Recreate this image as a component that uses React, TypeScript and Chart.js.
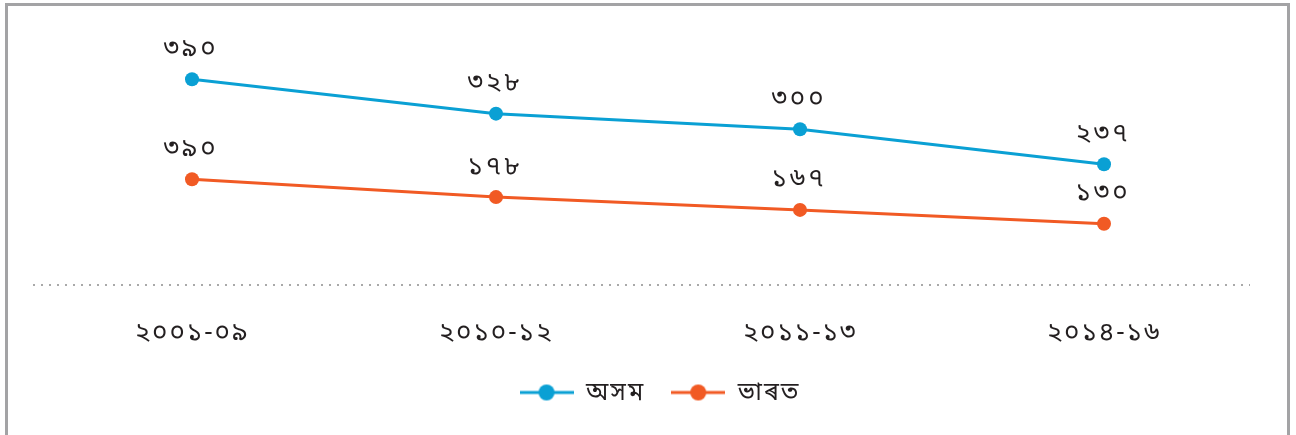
import React, { useEffect, useRef } from "react";
import { Chart, registerables } from "chart.js";

Chart.register(...registerables);

const categories = ["২০০১-০৯", "২০১০-১২", "২০১১-১৩", "২০১৪-১৬"];
const assamValues = [390, 328, 300, 237];
const indiaValues = [210, 178, 155, 130];
const assamLabels = ["৩৯০", "৩২৮", "৩০০", "২৩৭"];
const indiaLabels = ["৩৯০", "১৭৮", "১৬৭", "১৩০"];
const seriesNames = ["অসম", "ভাৰত"];

const BLUE = "#0aa0d4";
const ORANGE = "#f15a24";
const TEXT = "#231f20";
const FONT = "'Noto Sans', 'Noto Sans Bengali', sans-serif";

function makeMarker(color: string) {
  const c = document.createElement("canvas");
  c.width = 54;
  c.height = 18;
  const ctx = c.getContext("2d")!;
  ctx.strokeStyle = color;
  ctx.lineWidth = 3;
  ctx.beginPath();
  ctx.moveTo(0, 9);
  ctx.lineTo(54, 9);
  ctx.stroke();
  ctx.fillStyle = color;
  ctx.beginPath();
  ctx.arc(27, 9, 8, 0, Math.PI * 2);
  ctx.fill();
  return c;
}

const spacingPlugin = {
  id: "spacing",
  beforeUpdate(chart: any) {
    chart.ctx.letterSpacing = "2px";
  },
  afterLayout(chart: any) {
    if (chart.legend) {
      chart.legend.left += 12;
      chart.legend.right += 12;
    }
  },
  beforeDraw(chart: any) {
    chart.ctx.letterSpacing = "2px";
  },
};

const dottedLinePlugin = {
  id: "dottedLine",
  beforeDatasetsDraw(chart: any) {
    const { ctx, chartArea } = chart;
    ctx.save();
    ctx.strokeStyle = "#a9a9a9";
    ctx.lineWidth = 2;
    ctx.setLineDash([2, 6]);
    ctx.beginPath();
    ctx.moveTo(chartArea.left - 7, chartArea.bottom);
    ctx.lineTo(chartArea.right - 6, chartArea.bottom);
    ctx.stroke();
    ctx.restore();
  },
};

const valueLabelPlugin = {
  id: "valueLabels",
  afterDatasetsDraw(chart: any) {
    const ctx = chart.ctx;
    const sets = [assamLabels, indiaLabels];
    ctx.save();
    ctx.letterSpacing = "3px";
    ctx.font = `26px ${FONT}`;
    ctx.fillStyle = TEXT;
    ctx.textAlign = "center";
    ctx.textBaseline = "middle";
    chart.data.datasets.forEach((_: any, i: number) => {
      const meta = chart.getDatasetMeta(i);
      meta.data.forEach((pt: any, j: number) => {
        ctx.fillText(sets[i][j], pt.x - 1, pt.y - 31);
      });
    });
    ctx.restore();
  },
};

export default function App() {
  const ref = useRef<HTMLCanvasElement>(null);
  useEffect(() => {
    document.body.style.margin = "0";
    const chart = new Chart(ref.current!, {
      type: "line",
      data: {
        labels: categories,
        datasets: [
          {
            label: seriesNames[0],
            data: assamValues,
            borderColor: BLUE,
            backgroundColor: BLUE,
            borderWidth: 3,
            pointRadius: 7,
            pointHoverRadius: 7,
            pointBorderWidth: 0,
            pointStyle: "circle",
          },
          {
            label: seriesNames[1],
            data: indiaValues,
            borderColor: ORANGE,
            backgroundColor: ORANGE,
            borderWidth: 3,
            pointRadius: 7,
            pointHoverRadius: 7,
            pointBorderWidth: 0,
            pointStyle: "circle",
          },
        ],
      },
      options: {
        animation: false,
        responsive: false,
        layout: { padding: { left: 40, right: 40, top: 18, bottom: 20 } },
        plugins: {
          tooltip: { enabled: false },
          legend: {
            position: "bottom",
            labels: {
              usePointStyle: true,
              pointStyleWidth: 54,
              boxHeight: 18,
              padding: 26,
              color: TEXT,
              font: { family: FONT, size: 25 },
              generateLabels: (ch: any) =>
                ch.data.datasets.map((d: any, i: number) => ({
                  text: d.label,
                  fillStyle: d.borderColor,
                  strokeStyle: d.borderColor,
                  lineWidth: 0,
                  pointStyle: makeMarker(d.borderColor),
                  datasetIndex: i,
                  hidden: false,
                  fontColor: TEXT,
                })),
            },
          },
        },
        scales: {
          x: {
            offset: true,
            grid: { display: false, drawTicks: false },
            border: { display: false },
            ticks: {
              padding: 32,
              color: TEXT,
              font: { family: FONT, size: 26 },
            },
            afterFit: (scale: any) => {
              scale.height = 69;
            },
          },
          y: {
            display: false,
            min: 20,
            max: 500,
          },
        },
      },
      plugins: [spacingPlugin, dottedLinePlugin, valueLabelPlugin],
    });
    return () => chart.destroy();
  }, []);
  return (
    <div style={{ position: "relative", width: 1296, height: 435, overflow: "hidden", background: "#fff" }}>
      <div
        style={{
          position: "absolute",
          left: 5,
          top: 3,
          width: 1279,
          height: 440,
          borderTop: "3px solid #a3a3a5",
          borderLeft: "3px solid #a3a3a5",
          borderRight: "3px solid #a3a3a5",
          pointerEvents: "none",
        }}
      />
      <canvas ref={ref} width={1296} height={435} style={{ position: "absolute", left: 0, top: 0 }} />
    </div>
  );
}
